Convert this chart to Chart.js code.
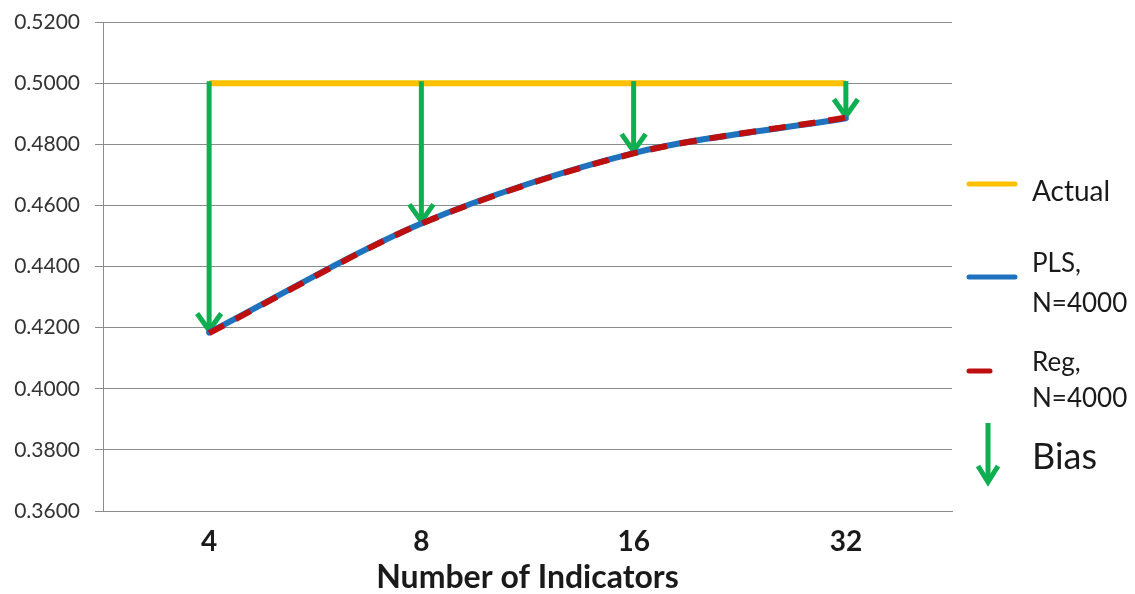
<!DOCTYPE html>
<html>
<head>
<meta charset="utf-8">
<script src="https://cdn.jsdelivr.net/npm/chart.js@4/dist/chart.umd.min.js"></script>
<style>
  html, body { margin: 0; padding: 0; background: #ffffff; }
  #wrap { width: 1135px; height: 594px; position: relative; }
</style>
</head>
<body>
<div id="wrap"><canvas id="c" width="1135" height="594"></canvas></div>
<script>
// Number of indicators per construct
const categories = ['4', '8', '16', '32'];
// True path coefficient
const actualValues = [0.5, 0.5, 0.5, 0.5];
// Mean estimates, N = 4000
const plsValues = [0.4184, 0.4541, 0.4771, 0.4885];
const regValues = [0.4182, 0.4540, 0.4770, 0.4887];
// Y axis tick range
const yMin = 0.36, yMax = 0.52, yStep = 0.02;

const FONT = 'Lato, "Open Sans", sans-serif';
const GRID = '#8c8c8c';
const C_ACTUAL = '#FFC000';
const C_PLS = '#1F72BE';
const C_REG = '#BE0F0F';
const C_BIAS = '#0DAF50';

function arrowDown(ctx, x, yTop, yTip, headW, headH, lw) {
  ctx.save();
  ctx.strokeStyle = C_BIAS;
  ctx.lineWidth = lw;
  ctx.lineCap = 'butt';
  ctx.lineJoin = 'miter';
  ctx.beginPath();
  ctx.moveTo(x, yTop);
  ctx.lineTo(x, yTip - 2);
  ctx.stroke();
  ctx.beginPath();
  ctx.moveTo(x - headW, yTip - headH);
  ctx.lineTo(x, yTip - 2);
  ctx.lineTo(x + headW, yTip - headH);
  ctx.stroke();
  ctx.restore();
}

// Bias arrows: from the actual value down to the PLS estimate
const biasArrows = {
  id: 'biasArrows',
  afterDatasetDraw(chart, args) {
    if (chart.data.datasets[args.index].label !== 'Actual') return;
    const xs = chart.scales.x, ys = chart.scales.y, ctx = chart.ctx;
    categories.forEach((c, i) => {
      const x = xs.getPixelForValue(i);
      const y0 = ys.getPixelForValue(actualValues[i]) - 2;
      const y1 = ys.getPixelForValue(plsValues[i]);
      arrowDown(ctx, x, y0, y1, 12, 19, 5);
    });
  }
};

// Legend on the right side
const sideLegend = {
  id: 'sideLegend',
  afterDraw(chart) {
    const ctx = chart.ctx;
    const x0 = 967, tx = 1032;
    ctx.save();
    ctx.fillStyle = '#1a1a1a';
    ctx.textAlign = 'left';
    ctx.textBaseline = 'middle';
    ctx.lineCap = 'round';

    // Actual
    ctx.strokeStyle = C_ACTUAL; ctx.lineWidth = 5;
    ctx.beginPath(); ctx.moveTo(x0 + 2, 184); ctx.lineTo(x0 + 48, 184); ctx.stroke();
    ctx.font = '28px ' + FONT;
    ctx.fillText('Actual', tx, 192);
    ctx.font = '26px ' + FONT;

    // PLS
    ctx.strokeStyle = C_PLS;
    ctx.beginPath(); ctx.moveTo(x0 + 2, 277); ctx.lineTo(x0 + 48, 277); ctx.stroke();
    ctx.fillText('PLS,', tx, 264);
    ctx.fillText('N=4000', tx, 304);

    // Reg
    ctx.strokeStyle = C_REG;
    ctx.beginPath(); ctx.moveTo(x0 + 2, 371); ctx.lineTo(x0 + 23, 371); ctx.stroke();
    ctx.fillText('Reg,', tx, 363);
    ctx.fillText('N=4000', tx, 399);

    // Bias
    arrowDown(ctx, 988, 423, 484, 10, 18, 5);
    ctx.font = '36px ' + FONT;
    ctx.fillText('Bias', tx, 457);
    ctx.restore();
  }
};

new Chart(document.getElementById('c'), {
  type: 'line',
  data: {
    labels: categories,
    datasets: [
      {
        label: 'Reg, N=4000', data: regValues,
        borderColor: C_REG, borderWidth: 6, borderDash: [17, 13],
        borderCapStyle: 'butt', pointRadius: 0, tension: 0.3, fill: false
      },
      {
        label: 'PLS, N=4000', data: plsValues,
        borderColor: C_PLS, borderWidth: 6, borderCapStyle: 'round',
        pointRadius: 0, tension: 0.3, fill: false
      },
      {
        label: 'Actual', data: actualValues,
        borderColor: C_ACTUAL, borderWidth: 6, borderCapStyle: 'butt',
        pointRadius: 0, tension: 0, fill: false
      }
    ]
  },
  options: {
    responsive: false,
    animation: false,
    events: [],
    layout: { padding: { top: 22, right: 183, left: 0, bottom: 0 } },
    plugins: { legend: { display: false }, tooltip: { enabled: false } },
    scales: {
      x: {
        offset: true,
        grid: { display: false, drawTicks: false },
        border: { display: true, color: GRID, width: 1 },
        ticks: { color: '#1a1a1a', font: { family: FONT, size: 28, weight: 'bold' }, padding: 14 },
        title: {
          display: true, text: 'Number of Indicators', color: '#1a1a1a',
          font: { family: FONT, size: 32, weight: 'bold', lineHeight: 1.0 }, padding: { top: 0, bottom: 0 }
        },
        afterFit(s) { s.height = 83; }
      },
      y: {
        min: yMin, max: yMax,
        grid: { color: GRID, lineWidth: 1, tickLength: 8, drawTicks: true },
        border: { display: true, color: GRID, width: 1 },
        ticks: {
          stepSize: yStep, color: '#333333', padding: 15,
          font: { family: FONT, size: 21 },
          callback: v => Number(v).toFixed(4)
        },
        afterFit(s) { s.width = 103; s.paddingTop = 0; s.paddingBottom = 0; }
      }
    }
  },
  plugins: [biasArrows, sideLegend]
});
</script>
</body>
</html>
